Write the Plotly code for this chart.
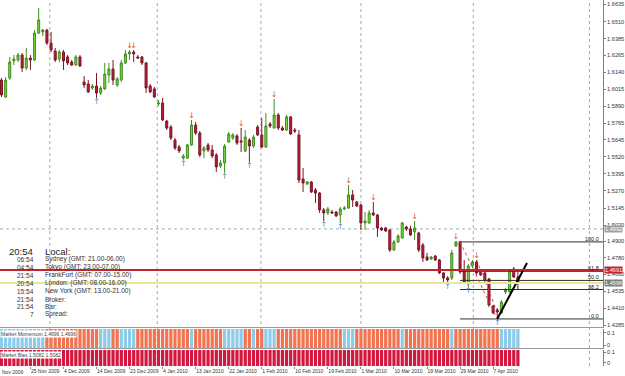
import plotly.graph_objects as go

# ---------------- data (daily bars) ----------------
opens = [1.6082,1.5958,1.6097,1.6222,1.6229,1.6265,1.6170,1.6243,1.6229,1.6426,
         1.6434,1.6448,1.6353,1.6295,1.6236,1.6287,1.6251,1.6214,1.6192,1.6251,
         1.6068,1.6053,1.6024,1.6038,1.5987,1.6017,1.6119,1.6163,1.6046,1.6082,
         1.6207,1.6273,1.6287,1.6251,1.6251,1.6207,1.6038,1.6017,1.5907,1.5914,
         1.5782,1.5738,1.5643,1.5592,1.5511,1.5511,1.5607,1.5753,1.5694,1.5563,
         1.5607,1.5570,1.5533,1.5453,1.5475,1.5629,1.5658,1.5673,1.5636,1.5563,
         1.5643,1.5599,1.5738,1.5680,1.5592,1.5760,1.5731,1.5826,1.5731,1.5716,
         1.5812,1.5716,1.5680,1.5358,1.5321,1.5336,1.5277,1.5255,1.5131,1.5109,
         1.5116,1.5116,1.5094,1.5138,1.5145,1.5241,1.5189,1.5167,1.5036,1.5036,
         1.5109,1.5094,1.4999,1.4999,1.4984,1.4838,1.4897,1.4926,1.5006,1.4992,
         1.4970,1.4962,1.4875,1.4787,1.4772,1.4794,1.4765,1.4670,1.4633,1.4633,
         1.4867,1.4897,1.4692,1.4589,1.4721,1.4750,1.4677,1.4670,1.4626,1.4428,
         1.4399,1.4377,1.4531,1.4531,1.4699,1.4640]
highs = [1.6097,1.6104,1.6251,1.6265,1.6280,1.6280,1.6317,1.6265,1.6448,1.6609,
         1.6456,1.6456,1.6434,1.6317,1.6302,1.6302,1.6265,1.6229,1.6265,1.6265,
         1.6112,1.6082,1.6053,1.6134,1.6038,1.6207,1.6207,1.6229,1.6104,1.6229,
         1.6302,1.6302,1.6302,1.6265,1.6258,1.6214,1.6053,1.6031,1.5936,1.5951,
         1.5790,1.5753,1.5658,1.5607,1.5541,1.5614,1.5790,1.5775,1.5709,1.5599,
         1.5621,1.5607,1.5548,1.5497,1.5614,1.5702,1.5694,1.5687,1.5731,1.5716,
         1.5658,1.5680,1.5753,1.5804,1.5841,1.5775,1.5943,1.5841,1.5746,1.5826,
         1.5819,1.5731,1.5716,1.5438,1.5343,1.5343,1.5292,1.5263,1.5145,1.5153,
         1.5131,1.5123,1.5153,1.5160,1.5314,1.5277,1.5197,1.5175,1.5116,1.5131,
         1.5189,1.5102,1.5006,1.5006,1.4992,1.4911,1.4955,1.5043,1.5014,1.5014,
         1.5050,1.4970,1.4889,1.4816,1.4794,1.4801,1.4772,1.4677,1.4648,1.4838,
         1.4904,1.4904,1.4765,1.4736,1.4765,1.4765,1.4684,1.4677,1.4633,1.4435,
         1.4413,1.4472,1.4560,1.4699,1.4714,1.4692]
lows = [1.5958,1.5951,1.6082,1.6192,1.6214,1.6141,1.6156,1.6156,1.6222,1.6419,
        1.6404,1.6339,1.6287,1.6214,1.6214,1.6156,1.6192,1.6185,1.6185,1.6178,
        1.6024,1.5987,1.6009,1.5951,1.5973,1.6009,1.6060,1.6046,1.6031,1.6068,
        1.6200,1.6229,1.6214,1.6236,1.6192,1.5987,1.5987,1.5951,1.5892,1.5782,
        1.5716,1.5643,1.5570,1.5548,1.5497,1.5504,1.5599,1.5680,1.5519,1.5511,
        1.5555,1.5511,1.5409,1.5438,1.5402,1.5621,1.5643,1.5607,1.5555,1.5555,
        1.5482,1.5585,1.5673,1.5585,1.5585,1.5731,1.5724,1.5716,1.5709,1.5709,
        1.5680,1.5694,1.5328,1.5263,1.5314,1.5255,1.5182,1.5109,1.5050,1.5094,
        1.5102,1.5080,1.5036,1.5131,1.5138,1.5153,1.5153,1.4984,1.4984,1.5028,
        1.5087,1.4933,1.4977,1.4970,1.4823,1.4831,1.4889,1.4919,1.4977,1.4940,
        1.4911,1.4823,1.4750,1.4757,1.4765,1.4757,1.4662,1.4604,1.4596,1.4618,
        1.4860,1.4662,1.4589,1.4567,1.4706,1.4655,1.4648,1.4596,1.4421,1.4370,
        1.4333,1.4370,1.4516,1.4523,1.4633,1.4545]
closes = [1.5973,1.6082,1.6214,1.6236,1.6265,1.6170,1.6243,1.6229,1.6426,1.6522,
          1.6448,1.6353,1.6302,1.6229,1.6287,1.6222,1.6207,1.6192,1.6251,1.6185,
          1.6046,1.5995,1.6038,1.5987,1.6024,1.6126,1.6163,1.6082,1.6090,1.6207,
          1.6273,1.6287,1.6273,1.6243,1.6207,1.6024,1.5995,1.5958,1.5914,1.5790,
          1.5731,1.5658,1.5585,1.5563,1.5526,1.5607,1.5753,1.5694,1.5533,1.5585,
          1.5570,1.5526,1.5446,1.5475,1.5599,1.5687,1.5680,1.5621,1.5629,1.5665,
          1.5599,1.5665,1.5680,1.5592,1.5746,1.5746,1.5826,1.5731,1.5716,1.5812,
          1.5687,1.5709,1.5350,1.5328,1.5336,1.5263,1.5255,1.5131,1.5109,1.5138,
          1.5109,1.5087,1.5138,1.5145,1.5241,1.5204,1.5160,1.5036,1.5050,1.5109,
          1.5094,1.4999,1.4984,1.4977,1.4838,1.4897,1.4940,1.5036,1.4992,1.4948,
          1.4999,1.4838,1.4780,1.4765,1.4787,1.4765,1.4670,1.4633,1.4618,1.4816,
          1.4897,1.4677,1.4596,1.4721,1.4750,1.4670,1.4655,1.4618,1.4435,1.4377,
          1.4384,1.4457,1.4545,1.4684,1.4640,1.4596]

# fractal arrows (bar numbers)
fractal_up_bars = [31, 32, 46, 58, 66, 84, 90, 100, 110, 115]
fractal_down_bars = [23, 44, 54, 60, 78, 82, 108, 113, 120]

# date axis
date_tick_bars = [7, 15, 23, 31, 39, 47, 55, 63, 71, 79, 87, 95, 103, 111, 119]
date_tick_text = ["25 Nov 2009", "4 Dec 2009", "14 Dec 2009", "23 Dec 2009", "4 Jan 2010",
                  "13 Jan 2010", "22 Jan 2010", "1 Feb 2010", "10 Feb 2010", "19 Feb 2010",
                  "1 Mar 2010", "10 Mar 2010", "19 Mar 2010", "29 Mar 2010", "7 Apr 2010"]
grid_bars = [11.7, 37.7, 62.8, 87.0, 114.2, 142.3]

# price axis
price_ticks = [1.6635, 1.6510, 1.6385, 1.6265, 1.6140, 1.6015, 1.5890, 1.5765, 1.5645,
               1.5520, 1.5395, 1.5270, 1.5145, 1.5020, 1.4900, 1.4780, 1.4660, 1.4535,
               1.4410, 1.4285]
price_tick_text = ["1.6635", "1.6510", "1.6385", "1.6265", "1.6140", "1.6015", "1.5890",
                   "1.5765", "1.5645", "1.5520", "1.5395", "1.5270", "1.5145", "1.5020",
                   "1.4900", "1.4780", "1.4660", "1.4535", "1.4410", "1.4285"]

# horizontal objects
red_level = 1.4691
bid_level = 1.4596
grid_level = 1.4992

# fibonacci retracement
fib_start_bar = 111
fib_high = 1.4897
fib_low = 1.4333
fib_ratios = [0.0, 38.2, 50.0, 61.8, 100.0]

# trend line
trend_bars = [120, 127.2]
trend_prices = [1.4333, 1.4743]

# dashed red swing lines
swing1_bars = [111, 120]
swing1_prices = [1.4897, 1.4333]
swing2_bars = [115, 119.5]
swing2_prices = [1.4765, 1.4421]

# indicator states (1 = up / blue, 0 = down / orange)
momentum = ("11111111111" "0000000000000" "111" "00" "1111" "0000000000000" "1"
            "0000000" "11111" "00" "1" "00" "111" "0000000000000000" "111"
            "00000000000" "1" "00000000000" "1" "00000000000" "11111")
bias = ("111111111111111111111111111111111111111111111111111111111111111"
        "111111111111111111111111111111111111111111111111111111111111111")

info_times = ["06:54", "04:54", "21:54", "20:54", "15:54", "21:54", "21:54", "7"]
info_labels = ["Sydney (GMT: 21.00-06.00)", "Tokyo (GMT: 23.00-07.00)",
               "FrankFurt (GMT: 07.00-15.00)", "London: (GMT: 08.00-16.00)",
               "New York (GMT: 13.00-21.00)", "Broker:", "Bar:", "Spread:"]

# ---------------- figure ----------------
N = len(opens)
bars = list(range(N))
X_MIN, X_MAX = -0.36, 145.6
P_MIN, P_MAX = 1.4274, 1.6668
PANEL_LO, PANEL_HI = -0.02, 0.13
PH = 366.0  # plot-area height in px
PW = 603.0  # plot-area width in px

fig = go.Figure()

# vertical dotted grid
for g in grid_bars:
    fig.add_shape(type="line", xref="x", yref="paper", x0=g, x1=g, y0=0, y1=1,
                  line=dict(color="#A8A8A8", width=1, dash="dot"), layer="below")
fig.add_shape(type="line", xref="paper", yref="y", x0=0, x1=1, y0=grid_level, y1=grid_level,
              line=dict(color="#A8A8A8", width=1, dash="dot"), layer="below")

# red & yellow horizontal lines
fig.add_shape(type="line", xref="paper", yref="y", x0=0, x1=1, y0=red_level, y1=red_level,
              line=dict(color="#C0242E", width=2))
fig.add_shape(type="line", xref="paper", yref="y", x0=0, x1=1, y0=bid_level, y1=bid_level,
              line=dict(color="#ECE68F", width=2))

# fibonacci lines
fib_levels = [fib_low + r / 100.0 * (fib_high - fib_low) for r in fib_ratios]
for r, lv in zip(fib_ratios, fib_levels):
    fig.add_trace(go.Scatter(x=[fib_start_bar, X_MAX + 5], y=[lv, lv], mode="lines",
                             line=dict(color="#303030", width=1), hoverinfo="skip",
                             showlegend=False, xaxis="x", yaxis="y"))
    fig.add_annotation(xref="paper", yref="y", x=0.997, y=lv, xanchor="right", yanchor="bottom",
                       text=f"{r:.1f}", showarrow=False, yshift=-2,
                       font=dict(family="Liberation Sans", size=5.5, color="#202020"))

# dashed swing lines
for sx, sy in [(swing1_bars, swing1_prices), (swing2_bars, swing2_prices)]:
    fig.add_trace(go.Scatter(x=sx, y=sy, mode="lines",
                             line=dict(color="#D24A4A", width=1, dash="dot"),
                             showlegend=False, xaxis="x", yaxis="y", hoverinfo="skip"))

# candles
fig.add_trace(go.Candlestick(
    x=bars, open=opens, high=highs, low=lows, close=closes,
    increasing=dict(fillcolor="#7CD23C", line=dict(color="#3F8F22", width=1)),
    decreasing=dict(fillcolor="#B3203A", line=dict(color="#7E1426", width=1)),
    whiskerwidth=0, showlegend=False, xaxis="x", yaxis="y", hoverinfo="skip"))

# fractals
fig.add_trace(go.Scatter(x=fractal_up_bars, y=[highs[i] for i in fractal_up_bars],
                         mode="text", text=["\u2193"] * len(fractal_up_bars),
                         textposition="top center",
                         textfont=dict(family="DejaVu Sans", size=8, color="#E2583E"),
                         showlegend=False, xaxis="x", yaxis="y", hoverinfo="skip"))
fig.add_trace(go.Scatter(x=fractal_down_bars, y=[lows[i] for i in fractal_down_bars],
                         mode="text", text=["\u2191"] * len(fractal_down_bars),
                         textposition="bottom center",
                         textfont=dict(family="DejaVu Sans", size=8, color="#4F86D0"),
                         showlegend=False, xaxis="x", yaxis="y", hoverinfo="skip"))

# trend line
fig.add_trace(go.Scatter(x=trend_bars, y=trend_prices, mode="lines",
                         line=dict(color="#000000", width=2), showlegend=False,
                         xaxis="x", yaxis="y", hoverinfo="skip"))

# indicator panels
mom_colors = ["#8CCBEA" if s == "1" else "#F2734F" for s in momentum]
fig.add_trace(go.Bar(x=bars, y=[PANEL_HI - PANEL_LO] * N, base=PANEL_LO,
                     marker=dict(color=mom_colors, line=dict(width=0)),
                     showlegend=False, xaxis="x2", yaxis="y2", hoverinfo="skip"))
bias_colors = ["#D4173F" if s == "1" else "#8CCBEA" for s in bias]
fig.add_trace(go.Bar(x=bars, y=[PANEL_HI - PANEL_LO] * N, base=PANEL_LO - 0.01,
                     marker=dict(color=bias_colors, line=dict(width=0)),
                     showlegend=False, xaxis="x3", yaxis="y3", hoverinfo="skip"))

# ---------------- text ----------------
tf = dict(family="Liberation Sans", size=6.5, color="#333333")
fig.add_annotation(xref="paper", yref="paper", x=35 / PW, y=1 - 251 / PH, xanchor="right",
                   yanchor="middle", text="20:54", showarrow=False,
                   font=dict(family="Liberation Sans", size=9.5, color="#222222"))
fig.add_annotation(xref="paper", yref="paper", x=43 / PW, y=1 - 251 / PH, xanchor="left",
                   yanchor="middle", text="Local:", showarrow=False,
                   font=dict(family="Liberation Sans", size=9.5, color="#222222"))
row_y = [259, 267, 275, 283, 291, 299, 306, 314]
for t, lab, py in zip(info_times, info_labels, row_y):
    fig.add_annotation(xref="paper", yref="paper", x=36 / PW, y=1 - py / PH, xanchor="right",
                       yanchor="middle", text=t, showarrow=False, font=tf)
    fig.add_annotation(xref="paper", yref="paper", x=43 / PW, y=1 - py / PH, xanchor="left",
                       yanchor="middle", text=lab, showarrow=False, font=tf)

fig.add_annotation(xref="paper", yref="paper", x=0, y=1 - 329.5 / PH, xanchor="left",
                   yanchor="top", text="Market Momentum 1.4696 1.4696", showarrow=False,
                   bgcolor="white", borderpad=0,
                   font=dict(family="Liberation Sans", size=5, color="#444444"))
fig.add_annotation(xref="paper", yref="paper", x=0, y=1 - 350.5 / PH, xanchor="left",
                   yanchor="top", text="Market Bias 1.5082 1.5082", showarrow=False,
                   bgcolor="white", borderpad=0,
                   font=dict(family="Liberation Sans", size=5, color="#444444"))

# price labels at right axis
for lv, txt, bg in [(grid_level, "1.4992", "#A0A0A0"), (red_level, "1.4691", "#C0242E"),
                    (bid_level, "1.4596", "#808080")]:
    fig.add_annotation(xref="paper", yref="y", x=1, y=lv, xanchor="left", yanchor="middle",
                       text=txt, showarrow=False, bgcolor=bg, borderpad=0, xshift=1,
                       font=dict(family="Liberation Sans", size=5.6, color="white"))

fig.add_annotation(xref="paper", yref="paper", x=0, y=0, xanchor="left", yanchor="top",
                   text="Nov 2009", showarrow=False, yshift=-1,
                   font=dict(family="Liberation Sans", size=5, color="#333333"))

axis_font = dict(family="Liberation Sans", size=5.6, color="#333333")
date_font = dict(family="Liberation Sans", size=5, color="#333333")
fig.update_layout(
    width=625, height=376, margin=dict(l=0, r=22, t=0, b=10, autoexpand=False),
    paper_bgcolor="white", plot_bgcolor="white", bargap=0.22,
    xaxis=dict(domain=[0, 1], range=[X_MIN, X_MAX], anchor="y", showticklabels=False,
               showgrid=False, zeroline=False, showline=True, linecolor="#9A9A9A",
               rangeslider=dict(visible=False), ticks="", automargin=False),
    xaxis2=dict(domain=[0, 1], range=[X_MIN, X_MAX], anchor="y2", matches="x",
                showticklabels=False, showgrid=False, zeroline=False, showline=True,
                linecolor="#9A9A9A", ticks="", automargin=False),
    xaxis3=dict(domain=[0, 1], range=[X_MIN, X_MAX], anchor="y3", matches="x",
                tickvals=date_tick_bars, ticktext=date_tick_text, ticks="outside",
                ticklen=2, tickcolor="#808080", ticklabelposition="outside right",
                tickangle=0, tickfont=date_font, showgrid=False, zeroline=False,
                showline=False, automargin=False),
    yaxis=dict(domain=[1 - 327 / PH, 1], range=[P_MIN, P_MAX], side="right",
               tickvals=price_ticks, ticktext=price_tick_text, ticks="outside", ticklen=2,
               tickcolor="#808080", showline=True, linecolor="#808080", showgrid=False,
               zeroline=False, tickfont=axis_font, automargin=False),
    yaxis2=dict(domain=[1 - 348 / PH, 1 - 329 / PH], range=[PANEL_LO, PANEL_HI], side="right",
                tickvals=[0.1, 0], ticktext=["0.1", "0"], ticks="outside", ticklen=2,
                tickcolor="#808080", showline=True, linecolor="#808080", showgrid=False,
                zeroline=False, tickfont=axis_font, automargin=False),
    yaxis3=dict(domain=[0, 1 - 350 / PH], range=[PANEL_LO - 0.01, PANEL_HI - 0.01], side="right",
                tickvals=[0.1, 0], ticktext=["0.1", "0"], ticks="outside", ticklen=2,
                tickcolor="#808080", showline=True, linecolor="#808080", showgrid=False,
                zeroline=False, tickfont=axis_font, automargin=False),
)

fig.write_html("out.html")
